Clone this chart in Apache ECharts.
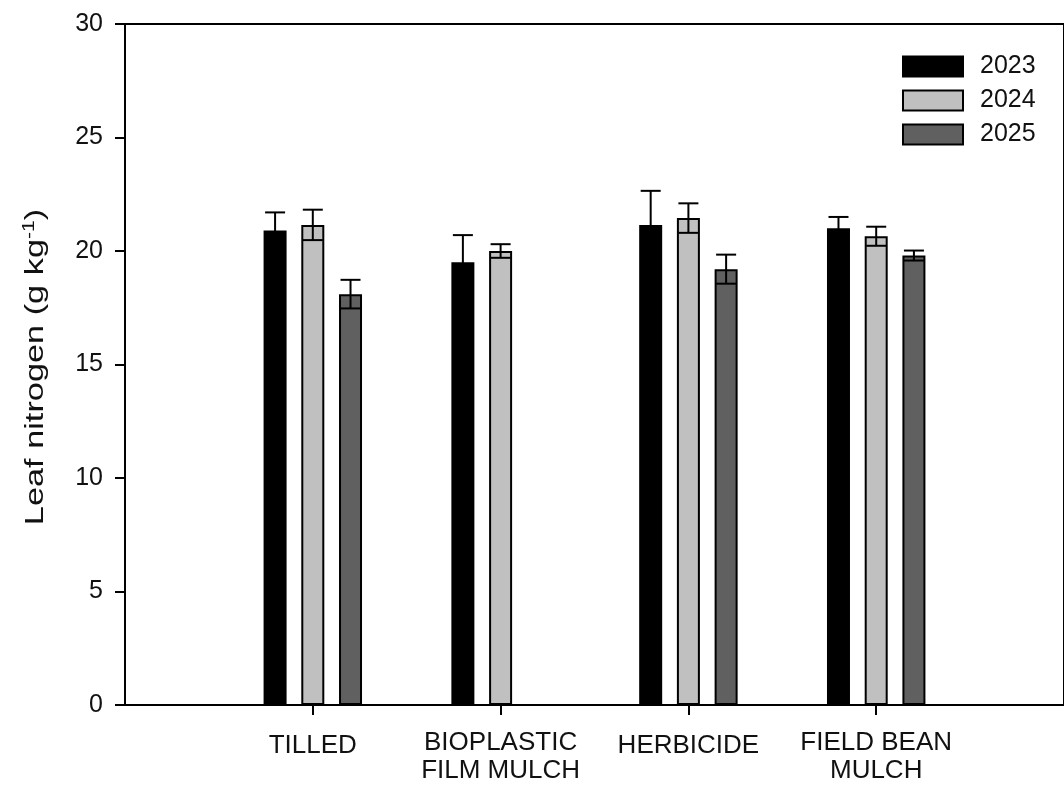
<!DOCTYPE html>
<html>
<head>
<meta charset="utf-8">
<script src="https://cdn.jsdelivr.net/npm/echarts@6/dist/echarts.min.js"></script>
<style>html,body{margin:0;padding:0;background:#fff}#c{width:1064px;height:787px}</style>
</head>
<body>
<div id="c"></div>
<script>
const categories = ['TILLED', 'BIOPLASTIC\nFILM MULCH', 'HERBICIDE', 'FIELD BEAN\nMULCH'];
const years = ['2023', '2024', '2025'];
const values2023 = [20.9, 19.5, 21.15, 21.0];
const values2024 = [21.15, 20.0, 21.45, 20.65];
const values2025 = [18.1, null, 19.2, 19.8];
const err2023 = [0.8, 1.2, 1.5, 0.5];
const err2024 = [0.67, 0.3, 0.65, 0.42];
const err2025 = [0.63, null, 0.64, 0.22];
const yTicks = [0, 5, 10, 15, 20, 25, 30];
const yTitle = 'Leaf nitrogen (g kg{sup|-1})';

const FONT = 'Liberation Sans, Arial, sans-serif';
const colors = ['#000000', '#c0c0c0', '#606060'];
const BAR_W = 23, BAR_GAP = 0.64;
const xData = [''].concat(categories, ['']);
const pad = arr => [null].concat(arr, [null]);
const vals = [values2023, values2024, values2025];
const errs = [err2023, err2024, err2025];

const series = [];
years.forEach((y, i) => {
  series.push({
    name: y, type: 'bar', barWidth: BAR_W, barGap: (BAR_GAP * 100) + '%',
    data: pad(vals[i]),
    itemStyle: { color: colors[i], borderColor: '#000', borderWidth: 2 },
    z: 2
  });
});
years.forEach((y, i) => {
  const d = [];
  vals[i].forEach((v, k) => { if (v != null) d.push([k + 1, v, errs[i][k]]); });
  series.push({
    type: 'custom', name: y + 'err', data: d, z: 5, silent: true,
    renderItem: function (params, api) {
      const step = BAR_W * (1 + BAR_GAP);
      const off = (i - 1) * step;
      const c = api.value(0), v = api.value(1), e = api.value(2);
      const p = api.coord([c, v]);
      const hi = api.coord([c, v + e]);
      const lo = api.coord([c, v - e]);
      const x = p[0] + off, hw = 10;
      const st = { stroke: '#000', lineWidth: 2 };
      return { type: 'group', children: [
        { type: 'line', shape: { x1: x, y1: hi[1], x2: x, y2: lo[1] }, style: st },
        { type: 'line', shape: { x1: x - hw, y1: hi[1], x2: x + hw, y2: hi[1] }, style: st },
        { type: 'line', shape: { x1: x - hw, y1: lo[1], x2: x + hw, y2: lo[1] }, style: st }
      ]};
    }
  });
});

const chart = echarts.init(document.getElementById('c'), null, { renderer: 'canvas' });
chart.setOption({
  animation: false,
  backgroundColor: '#fff',
  textStyle: { fontFamily: FONT },
  grid: { left: 125, top: 24, width: 944, height: 681, show: true, borderColor: '#000', borderWidth: 2, backgroundColor: 'transparent' },
  legend: {
    data: years, orient: 'vertical', left: 902, top: 54, padding: 0, itemWidth: 60, itemHeight: 20, itemGap: 9,
    icon: 'rect',
    textStyle: { fontSize: 25, color: '#111', fontFamily: FONT, padding: [0, 0, 0, 12] }
  },
  graphic: [{
    type: 'text', x: 36, y: 367, rotation: Math.PI / 2, scaleX: 1.32, silent: true,
    style: {
      text: yTitle, fill: '#111', fontSize: 26, fontFamily: FONT, align: 'center', verticalAlign: 'middle',
      rich: { sup: { fontSize: 16, fontFamily: FONT, fill: '#111', padding: [0, 0, 13, 0] } }
    }
  }],
  xAxis: {
    type: 'category', data: xData, boundaryGap: false,
    axisLine: { lineStyle: { color: '#000', width: 2 } },
    axisTick: { length: 10, lineStyle: { color: '#000', width: 2 }, interval: (i) => i > 0 && i < xData.length - 1 },
    axisLabel: {
      interval: (i) => i > 0 && i < xData.length - 1, margin: 24, color: '#111', fontSize: 26, fontFamily: FONT, lineHeight: 28,
      formatter: (v) => v.indexOf('\n') >= 0 ? v : '{s|' + v + '}',
      rich: { s: { fontSize: 26, fontFamily: FONT, color: '#111', lineHeight: 28, padding: [6, 0, 0, 0] } }
    },
    splitLine: { show: false }
  },
  yAxis: {
    type: 'value', min: yTicks[0], max: yTicks[yTicks.length - 1], interval: 5,
    axisLine: { show: true, lineStyle: { color: '#000', width: 2 } },
    axisTick: { show: true, length: 10, lineStyle: { color: '#000', width: 2 } },
    axisLabel: { margin: 22, color: '#111', fontSize: 25, fontFamily: FONT },
    splitLine: { show: false }
  },
  series: series
});
</script>
</body>
</html>
